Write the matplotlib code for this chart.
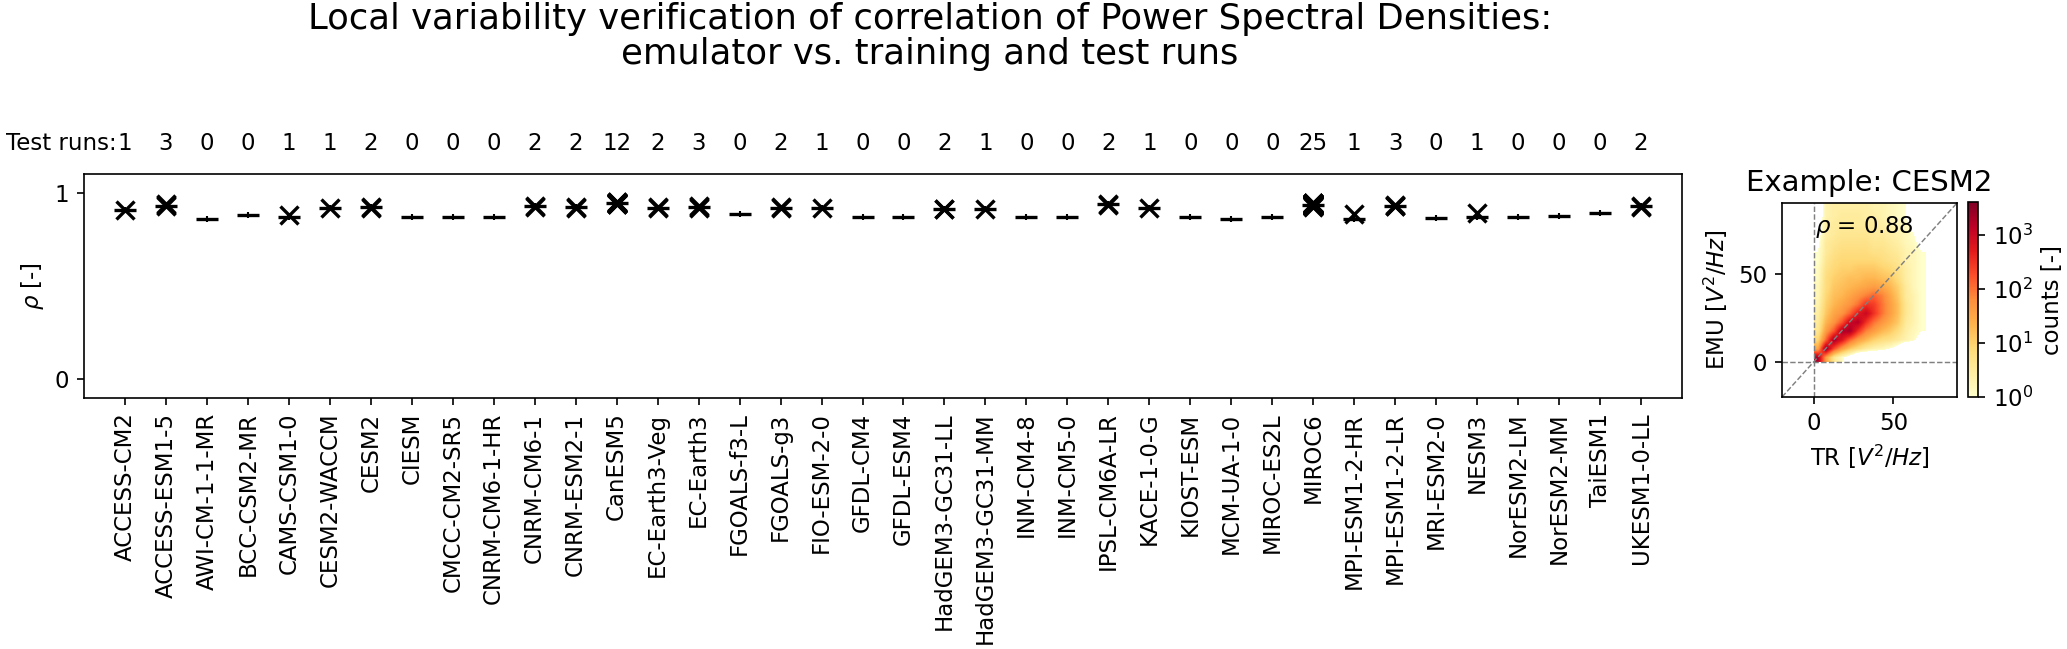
import numpy as np
import matplotlib
import matplotlib.pyplot as plt
from matplotlib.colors import LogNorm, Normalize
from matplotlib.cm import ScalarMappable

plt.rcParams['font.family'] = 'DejaVu Sans'
plt.rcParams['font.size'] = 11

# models and their correlation of PSDs (emulator vs. training runs)
models = ['ACCESS-CM2', 'ACCESS-ESM1-5', 'AWI-CM-1-1-MR', 'BCC-CSM2-MR', 'CAMS-CSM1-0',
          'CESM2-WACCM', 'CESM2', 'CIESM', 'CMCC-CM2-SR5', 'CNRM-CM6-1-HR', 'CNRM-CM6-1',
          'CNRM-ESM2-1', 'CanESM5', 'EC-Earth3-Veg', 'EC-Earth3', 'FGOALS-f3-L', 'FGOALS-g3',
          'FIO-ESM-2-0', 'GFDL-CM4', 'GFDL-ESM4', 'HadGEM3-GC31-LL', 'HadGEM3-GC31-MM',
          'INM-CM4-8', 'INM-CM5-0', 'IPSL-CM6A-LR', 'KACE-1-0-G', 'KIOST-ESM', 'MCM-UA-1-0',
          'MIROC-ES2L', 'MIROC6', 'MPI-ESM1-2-HR', 'MPI-ESM1-2-LR', 'MRI-ESM2-0', 'NESM3',
          'NorESM2-LM', 'NorESM2-MM', 'TaiESM1', 'UKESM1-0-LL']

train_rho = [0.907, 0.930, 0.859, 0.880, 0.872, 0.916, 0.922, 0.872, 0.870, 0.872,
             0.927, 0.922, 0.943, 0.920, 0.922, 0.884, 0.920, 0.920, 0.872, 0.872,
             0.913, 0.913, 0.872, 0.872, 0.938, 0.916, 0.872, 0.857, 0.870, 0.934,
             0.859, 0.930, 0.866, 0.870, 0.868, 0.873, 0.893, 0.929]

# correlation of emulator vs. each test run
test_rho = [
    [0.908],
    [0.928, 0.933, 0.937],
    [], [],
    [0.880],
    [0.917],
    [0.920, 0.925],
    [], [], [],
    [0.925, 0.930],
    [0.920, 0.924],
    [0.938, 0.940, 0.942, 0.943, 0.944, 0.945, 0.946, 0.947, 0.948, 0.950, 0.941, 0.944],
    [0.918, 0.922],
    [0.918, 0.922, 0.926],
    [],
    [0.918, 0.922],
    [0.920],
    [], [],
    [0.912, 0.915],
    [0.913],
    [], [],
    [0.935, 0.940],
    [0.916],
    [], [], [],
    [0.925, 0.927, 0.928, 0.929, 0.930, 0.931, 0.932, 0.933, 0.934, 0.935, 0.936, 0.937,
     0.938, 0.939, 0.940, 0.941, 0.942, 0.943, 0.944, 0.945, 0.930, 0.935, 0.938, 0.933, 0.940],
    [0.884],
    [0.927, 0.931, 0.935],
    [],
    [0.893],
    [], [], [],
    [0.925, 0.930],
]

# example CESM2: log10 of counts in 5x5 bins, TR (columns) vs EMU (rows, top to bottom)
hist_tr_edges = [0, 70]
hist_emu_edges = [0, 90]
log_counts = [
    [-0.5, 0.3, 0.4, 0.4, 0.4, 0.4, 0.4, 0.3, 0.3, 0.2, 0.1, 0.0, -1, -1],
    [-0.4, 0.3, 0.4, 0.5, 0.5, 0.5, 0.4, 0.4, 0.3, 0.2, 0.1, 0.0, -0.5, -1],
    [-0.3, 0.4, 0.5, 0.5, 0.5, 0.5, 0.5, 0.5, 0.4, 0.3, 0.2, 0.1, -0.2, -1],
    [-0.2, 0.4, 0.5, 0.6, 0.6, 0.6, 0.6, 0.5, 0.5, 0.4, 0.3, 0.2, 0.0, -0.5],
    [-0.1, 0.5, 0.6, 0.7, 0.7, 0.7, 0.7, 0.6, 0.6, 0.5, 0.4, 0.2, 0.1, -0.2],
    [0.0, 0.5, 0.7, 0.8, 0.8, 0.8, 0.8, 0.7, 0.7, 0.6, 0.5, 0.3, 0.2, 0.0],
    [0.0, 0.6, 0.8, 0.9, 0.9, 0.9, 0.9, 0.9, 0.8, 0.7, 0.6, 0.3, 0.2, 0.0],
    [0.1, 0.7, 0.9, 1.0, 1.0, 1.1, 1.1, 1.1, 1.0, 0.9, 0.7, 0.4, 0.2, 0.0],
    [0.1, 0.8, 1.0, 1.1, 1.2, 1.2, 1.3, 1.3, 1.2, 1.1, 0.8, 0.4, 0.2, 0.0],
    [0.2, 0.8, 1.1, 1.2, 1.3, 1.4, 1.5, 1.6, 1.5, 1.3, 1.0, 0.5, 0.2, 0.0],
    [0.2, 0.9, 1.2, 1.3, 1.5, 1.7, 1.9, 2.1, 1.9, 1.5, 1.1, 0.5, 0.3, 0.0],
    [0.3, 1.0, 1.3, 1.5, 1.7, 2.0, 2.5, 2.4, 2.0, 1.6, 1.2, 0.6, 0.3, 0.0],
    [0.4, 1.1, 1.5, 1.7, 2.1, 2.7, 3.0, 2.5, 2.0, 1.6, 1.2, 0.6, 0.3, 0.0],
    [0.5, 1.3, 1.7, 2.2, 3.0, 3.2, 2.5, 2.0, 1.7, 1.4, 1.1, 0.5, 0.3, 0.0],
    [0.6, 1.6, 2.2, 3.2, 3.3, 2.5, 1.9, 1.6, 1.3, 1.1, 0.8, 0.4, 0.2, 0.0],
    [0.9, 2.1, 3.3, 2.8, 2.1, 1.6, 1.3, 1.0, 0.8, 0.7, 0.5, 0.3, 0.1, -0.3],
    [1.5, 3.4, 2.3, 1.6, 1.1, 0.8, 0.5, 0.3, 0.2, 0.0, -0.3, -1, -1, -1],
    [3.3, 1.6, 0.6, 0.1, -0.3, -1, -1, -1, -1, -1, -1, -1, -1, -1],
]
example_rho = 0.88
counts_max = 4000

W, H = 2067, 649
fig = plt.figure(figsize=(W / 150, H / 150), dpi=150)

# ---- main panel
ax = fig.add_axes([84 / W, 1 - 398 / H, 1598 / W, 224 / H])
x = np.arange(len(models))
ax.plot(x, train_rho, ls='none', marker='_', ms=11, mew=1.6, color='black')
ax.plot(x, train_rho, ls='none', marker='|', ms=2.5, mew=1.0, color='black')
for i, vals in enumerate(test_rho):
    if vals:
        ax.plot([i] * len(vals), vals, ls='none', marker='x', ms=8.5, mew=1.6, color='black')
for i, vals in enumerate(test_rho):
    ax.text(i, 1.2, str(len(vals)), ha='center', va='bottom')
ax.text(-0.2, 1.2, 'Test runs:', ha='right', va='bottom')

ax.set_xlim(-1, len(models))
ax.set_ylim(-0.1, 1.1)
ax.set_yticks([0, 1])
ax.set_xticks(x)
ax.set_xticklabels(models, rotation=90)
ax.set_ylabel(r'$\rho$ [-]')

fig.text(930 / W, 1 - 2 / H,
         'Local variability verification of correlation of Power Spectral Densities:\n'
         'emulator vs. training and test runs',
         ha='center', va='top', fontsize=17, linespacing=1.05)

# ---- example panel
ax2 = fig.add_axes([1782 / W, 1 - 397 / H, 175 / W, 194 / H])
cmap = matplotlib.colormaps['YlOrRd'].copy()
cmap.set_under((1, 1, 1, 0))
ax2.imshow(np.array(log_counts), origin='upper', aspect='auto',
           extent=hist_tr_edges + hist_emu_edges, cmap=cmap,
           norm=Normalize(0, np.log10(counts_max)),
           interpolation='bilinear', interpolation_stage='data', zorder=1)
ax2.axhline(0, color='grey', ls='--', lw=0.7, zorder=2)
ax2.axvline(0, color='grey', ls='--', lw=0.7, zorder=2)
ax2.plot([-20, 90], [-20, 90], color='grey', ls='--', lw=0.7, zorder=2)
ax2.set_xlim(-20, 90)
ax2.set_ylim(-20, 90)
ax2.set_xticks([0, 50])
ax2.set_yticks([0, 50])
ax2.text(1, 73, r'$\rho$ = %.2f' % example_rho, va='baseline', fontsize=11)
ax2.set_title('Example: CESM2', fontsize=14)
ax2.set_xlabel(r'TR [$V^2/Hz$]')
ax2.set_ylabel(r'EMU [$V^2/Hz$]')

cax = fig.add_axes([1968 / W, 1 - 397 / H, 10 / W, 195 / H])
sm = ScalarMappable(norm=LogNorm(1, counts_max), cmap=matplotlib.colormaps['YlOrRd'])
cb = fig.colorbar(sm, cax=cax)
cb.ax.minorticks_off()
cb.set_label('counts [-]')

fig.savefig('out.png', dpi=150)
